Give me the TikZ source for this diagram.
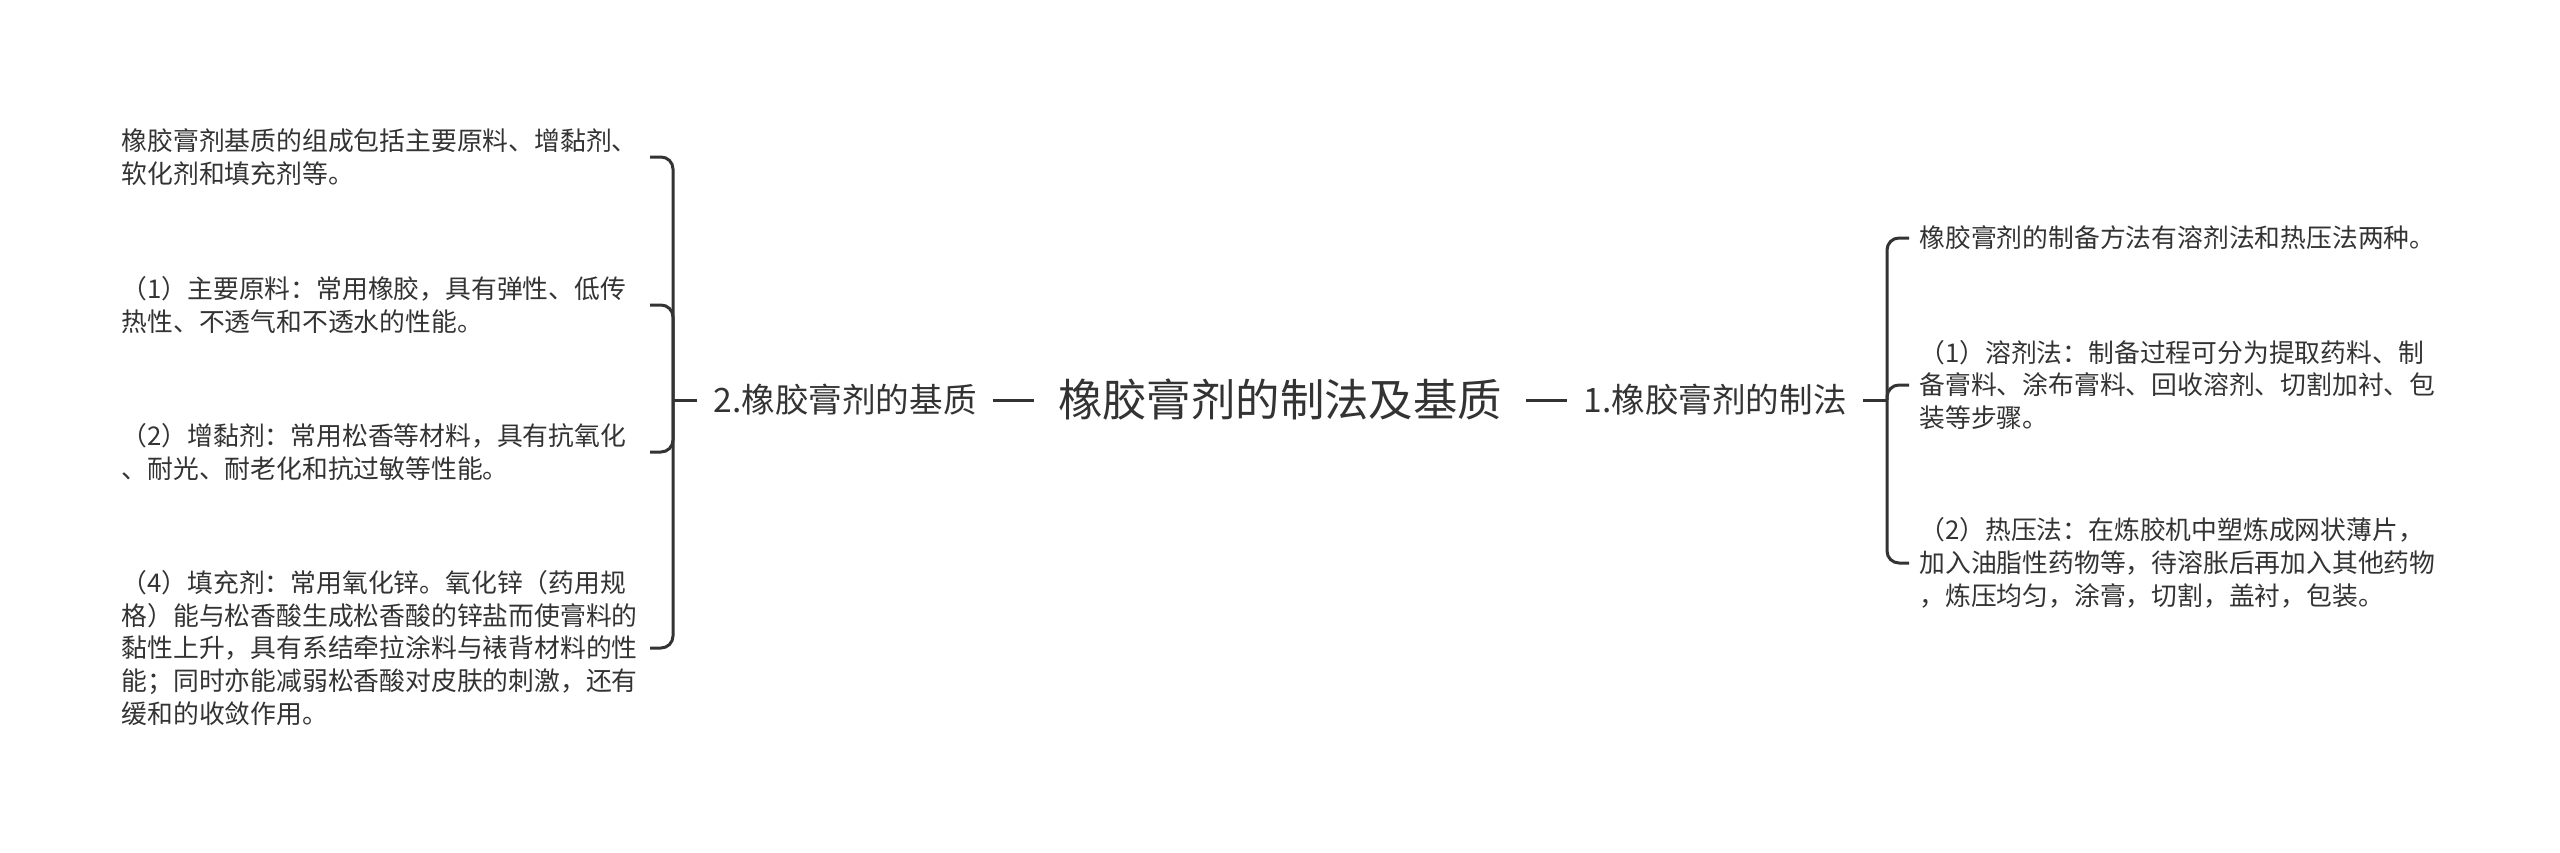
\documentclass[tikz,border=0pt]{standalone}
\usepackage{fontspec}
\setmainfont{Noto Sans CJK SC}
\definecolor{ink}{HTML}{333333}
\tikzset{
  leaf/.style={inner xsep=5pt, inner ysep=1pt, text width=259pt, align=left, text=ink, font=\fontsize{12.9pt}{16.4pt}\selectfont},
  branch/.style={inner xsep=8pt, text=ink, font=\fontsize{16.8pt}{19pt}\selectfont},
  topic/.style={inner xsep=12pt, text=ink, font=\fontsize{22.2pt}{26pt}\selectfont},
  link/.style={draw=ink, line width=1.5pt, rounded corners=6pt}
}
\begin{document}
\begin{tikzpicture}[x=0.5pt,y=-0.5pt]
		\useasboundingbox (0,0) rectangle (2560,852);
		\node[topic] (root) at (1280,400) {橡胶膏剂的制法及基质};
		\node[branch] (b2) at (845,400) {2.橡胶膏剂的基质};
		\node[branch] (b1) at (1715,400) {1.橡胶膏剂的制法};
		\coordinate (jl) at (673,400);
		\coordinate (jr) at (1887,400);
		
		\node[leaf, anchor=east] (l1) at (650,157) {橡胶膏剂基质的组成包括主要原料、增黏剂、\\软化剂和填充剂等。};
		\node[leaf, anchor=east] (l2) at (650,305) {（1）主要原料：常用橡胶，具有弹性、低传\\热性、不透气和不透水的性能。};
		\node[leaf, anchor=east] (l3) at (650,452) {（2）增黏剂：常用松香等材料，具有抗氧化\\、耐光、耐老化和抗过敏等性能。};
		\node[leaf, anchor=east] (l4) at (650,648) {（4）填充剂：常用氧化锌。氧化锌（药用规\\格）能与松香酸生成松香酸的锌盐而使膏料的\\黏性上升，具有系结牵拉涂料与裱背材料的性\\能；同时亦能减弱松香酸对皮肤的刺激，还有\\缓和的收敛作用。};
		
		\node[leaf, anchor=west] (r1) at (1909,238) {橡胶膏剂的制备方法有溶剂法和热压法两种。};
		\node[leaf, anchor=west] (r2) at (1909,385) {（1）溶剂法：制备过程可分为提取药料、制\\备膏料、涂布膏料、回收溶剂、切割加衬、包\\装等步骤。};
		\node[leaf, anchor=west] (r3) at (1909,563) {（2）热压法：在炼胶机中塑炼成网状薄片，\\加入油脂性药物等，待溶胀后再加入其他药物\\，炼压均匀，涂膏，切割，盖衬，包装。};
		
		\draw[link] (root) -- (b2);
		\draw[link] (root) -- (b1);
		\draw[link] (b2.west) -- (jl);
		\draw[link] (b1.east) -- (jr);
		\foreach \n in {l1,l2,l3,l4}
			\draw[link] (jl) |- (\n.east);
		\foreach \n in {r1,r2,r3}
			\draw[link] (jr) |- (\n.west);
		
	\end{tikzpicture}
\end{document}
